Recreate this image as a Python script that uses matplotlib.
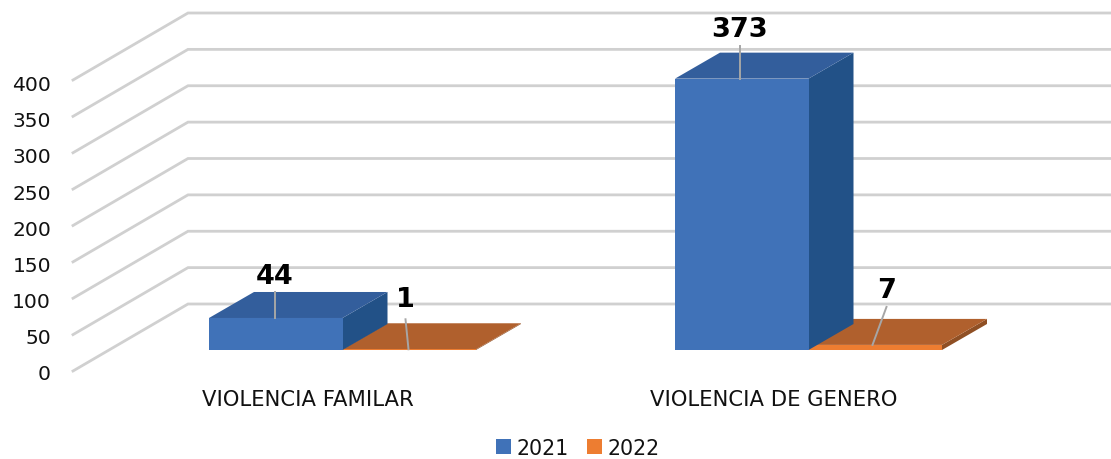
import matplotlib
matplotlib.use('Agg')
import matplotlib.pyplot as plt
from matplotlib.patches import Patch, Polygon

# Data
categories = ['VIOLENCIA FAMILAR', 'VIOLENCIA DE GENERO']
values_2021 = [44, 373]
values_2022 = [1, 7]
series_names = ['2021', '2022']
y_ticks = [0, 50, 100, 150, 200, 250, 300, 350, 400]

# Colours: front, top, side
blue = ['#4072B8', '#335E9C', '#225187']
orange = ['#ED7D31', '#B0602D', '#8F4F24']
grid_color = '#D0D0D0'
leader_color = '#A6A6A6'

# x is in figure pixels, y in chart units, baseline of the bars is y=0
px_per_unit = 0.7275
baseline_px = 351
bar_w = 133.5
group_left = [209, 675]
depth_x = 45
depth_y = 26 / px_per_unit

fig = plt.figure(figsize=(11.11, 4.6), dpi=100)
ax = fig.add_axes([0, 0, 1, 1])
ax.set_xlim(0, 1111)
ax.set_ylim((baseline_px - 460) / px_per_unit, baseline_px / px_per_unit)
ax.axis('off')

# Back wall and side wall gridlines
front_off = -21 / px_per_unit
back_off = 46 / px_per_unit
for v in y_ticks:
    ax.plot([73, 188, 1111], [v + front_off, v + back_off, v + back_off],
            color=grid_color, lw=2.0, solid_joinstyle='miter', zorder=1)
    ax.text(51, v * 0.993 - 32.5, str(v), ha='right', va='center',
            fontsize=14.6, color='#111111', zorder=5)


def draw_bar(x0, h, colors, z):
    x1 = x0 + bar_w
    side = [(x1, 0), (x1 + depth_x, depth_y), (x1 + depth_x, h + depth_y), (x1, h)]
    top = [(x0, h), (x1, h), (x1 + depth_x, h + depth_y), (x0 + depth_x, h + depth_y)]
    front = [(x0, 0), (x1, 0), (x1, h), (x0, h)]
    ax.add_patch(Polygon(side, fc=colors[2], ec='none', zorder=z))
    ax.add_patch(Polygon(top, fc=colors[1], ec='none', zorder=z))
    ax.add_patch(Polygon(front, fc=colors[0], ec='none', zorder=z))


for i, left in enumerate(group_left):
    draw_bar(left + bar_w, values_2022[i], orange, 2)
    draw_bar(left, values_2021[i], blue, 3)

# Data labels with leader lines (offsets are from the bar front top, in px)
label_layout_2021 = [(66, 0, 66, 26, 66, 42), (64.5, 0, 64.5, 33, 64.5, 50)]
label_layout_2022 = [(66, 0, 63, 30, 63, 50), (64, 0, 78, 38, 78, 55)]
for i, left in enumerate(group_left):
    for x0, val, layout in ((left, values_2021[i], label_layout_2021[i]),
                            (left + bar_w, values_2022[i], label_layout_2022[i])):
        ax.plot([x0 + layout[0], x0 + layout[2]],
                [val + layout[1] / px_per_unit, val + layout[3] / px_per_unit],
                color=leader_color, lw=1.4, zorder=4)
        ax.text(x0 + layout[4], val + layout[5] / px_per_unit, str(val), ha='center', va='center',
                fontsize=19.5, fontweight='bold', color='black', zorder=5)

# Category labels
for left, name in zip(group_left, categories):
    ax.text(left + 98.5, -68, name, ha='center', va='center', fontsize=15.2, color='#111111')

# Legend
handles = [Patch(fc=blue[0], ec='none'), Patch(fc=orange[0], ec='none')]
ax.legend(handles, series_names, loc='center', bbox_to_anchor=(578 / 1111, 1 - 449 / 460),
          ncol=2, frameon=False, fontsize=14.8, handlelength=0.72, handleheight=0.72,
          handletextpad=0.27, columnspacing=0.9, labelcolor='#111111')

fig.savefig('out.png', dpi=100)
